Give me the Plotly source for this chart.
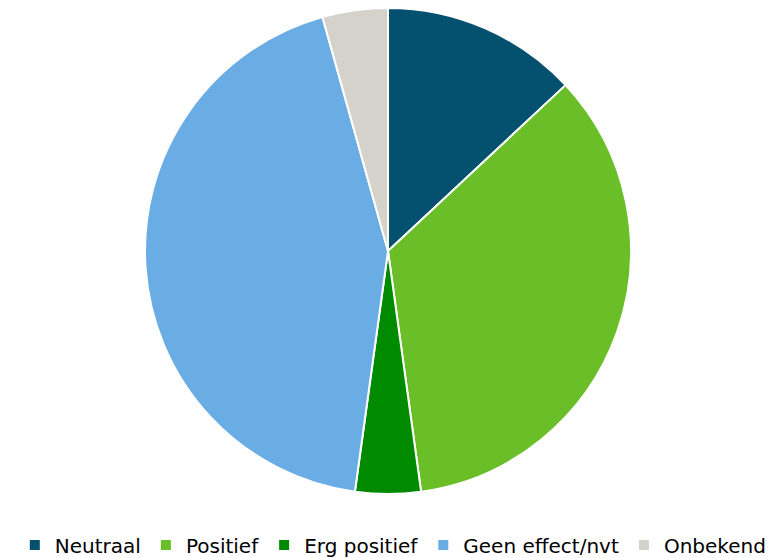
import plotly.graph_objects as go

labels = ["Neutraal", "Positief", "Erg positief", "Geen effect/nvt", "Onbekend"]
values = [12, 32, 4, 40, 4]
colors = ["#03506f", "#6abe28", "#008a00", "#6aace4", "#d5d2cb"]

# page body has an 8px margin, so the figure is sized/offset to compensate
W, H = 766, 550
fig = go.Figure(go.Pie(
    labels=labels, values=values, sort=False, direction="clockwise",
    marker=dict(colors=colors, line=dict(color="white", width=2)),
    textinfo="none", hoverinfo="label+value+percent",
    domain=dict(x=[0, 760 / W], y=[(H - 486) / H, 1]),
))
fig.update_layout(
    width=W, height=H,
    margin=dict(l=0, r=0, t=0, b=0, autoexpand=False),
    paper_bgcolor="white",
    font=dict(family="DejaVu Sans", size=20, color="#000000"),
    legend=dict(orientation="h", x=0.503, xanchor="center", y=(H - 537) / H, yanchor="middle",
                font=dict(size=20), itemwidth=30),
)
fig.write_html("out.html")
